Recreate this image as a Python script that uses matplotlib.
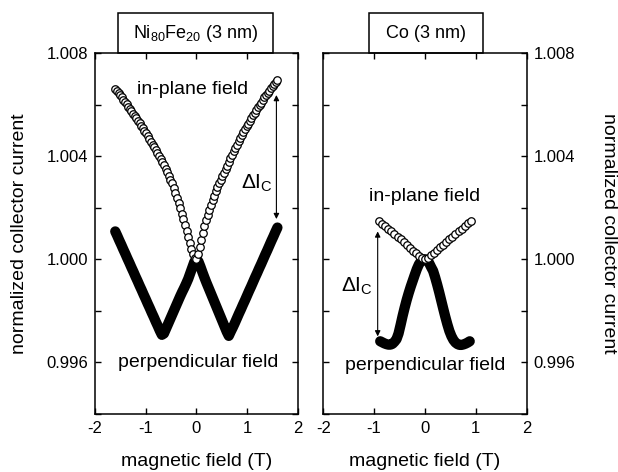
import numpy as np
import matplotlib
matplotlib.use('Agg')
import matplotlib.pyplot as plt
from matplotlib.patches import Rectangle

plt.rcParams['font.family'] = ['Liberation Sans', 'DejaVu Sans']
plt.rcParams['mathtext.default'] = 'regular'

# Ni80Fe20 (3 nm): in-plane sweep, -1.6 .. 1.6 T in 0.032 T steps
field_nife_ip = np.linspace(-1.6, 1.6, 101)
nife_inplane = [
    1.00662, 1.00654, 1.00645, 1.00636, 1.00628, 1.00619, 1.00610, 1.00601, 1.00592, 1.00584,
    1.00575, 1.00565, 1.00556, 1.00547, 1.00538, 1.00528, 1.00518, 1.00509, 1.00499, 1.00488,
    1.00478, 1.00467, 1.00456, 1.00444, 1.00434, 1.00423, 1.00412, 1.00400, 1.00389, 1.00377,
    1.00364, 1.00351, 1.00338, 1.00324, 1.00309, 1.00294, 1.00275, 1.00256, 1.00236, 1.00217,
    1.00198, 1.00177, 1.00155, 1.00133, 1.00110, 1.00087, 1.00064, 1.00041, 1.00021, 1.00006,
    1.00000,
    1.00022, 1.00049, 1.00076, 1.00102, 1.00128, 1.00151, 1.00172, 1.00192, 1.00211, 1.00230,
    1.00247, 1.00263, 1.00279, 1.00294, 1.00308, 1.00322, 1.00336, 1.00350, 1.00363, 1.00377,
    1.00391, 1.00406, 1.00419, 1.00432, 1.00445, 1.00458, 1.00469, 1.00481, 1.00492, 1.00504,
    1.00515, 1.00526, 1.00537, 1.00548, 1.00558, 1.00569, 1.00579, 1.00589, 1.00599, 1.00608,
    1.00618, 1.00628, 1.00637, 1.00646, 1.00654, 1.00663, 1.00671, 1.00679, 1.00687, 1.00694,
]
# perpendicular sweep, 0.04 T steps
field_nife_pp = np.linspace(-1.6, 1.6, 81)
nife_perp = [
    1.00108, 1.00091, 1.00073, 1.00056, 1.00038, 1.00021, 1.00003, 0.99986, 0.99968, 0.99951,
    0.99933, 0.99916, 0.99898, 0.99881, 0.99863, 0.99846, 0.99828, 0.99811, 0.99793, 0.99776,
    0.99758, 0.99741, 0.99723, 0.99707, 0.99712, 0.99730, 0.99748, 0.99766, 0.99784, 0.99802,
    0.99820, 0.99838, 0.99856, 0.99873, 0.99889, 0.99906, 0.99924, 0.99946, 0.99968, 0.99990,
    1.00000,
    0.99992, 0.99972, 0.99950, 0.99929, 0.99909, 0.99890, 0.99871, 0.99852, 0.99833, 0.99814,
    0.99795, 0.99776, 0.99757, 0.99738, 0.99719, 0.99703, 0.99720, 0.99736, 0.99753, 0.99771,
    0.99789, 0.99806, 0.99824, 0.99841, 0.99859, 0.99877, 0.99894, 0.99912, 0.99930, 0.99947,
    0.99965, 0.99982, 1.00000, 1.00018, 1.00035, 1.00053, 1.00071, 1.00088, 1.00106, 1.00123,
]

# Co (3 nm): in-plane sweep -0.9 .. 0.9 T in 0.06 T steps
field_co_ip = np.linspace(-0.9, 0.9, 31)
co_inplane = [
    1.00147, 1.00138, 1.00129, 1.00119, 1.00109, 1.00099, 1.00088, 1.00077, 1.00066, 1.00055,
    1.00044, 1.00033, 1.00023, 1.00013, 1.00005, 1.00000, 1.00006, 1.00015, 1.00025, 1.00036,
    1.00046, 1.00057, 1.00067, 1.00078, 1.00088, 1.00099, 1.00109, 1.00119, 1.00129, 1.00139,
    1.00149,
]
# perpendicular sweep, 0.04 T steps
field_co_pp = np.linspace(-0.88, 0.88, 45)
co_perp = [
    0.99682, 0.99678, 0.99674, 0.99671, 0.99669, 0.99669, 0.99672, 0.99680, 0.99690, 0.99712,
    0.99745, 0.99780, 0.99812, 0.99842, 0.99869, 0.99894, 0.99917, 0.99940, 0.99962, 0.99980,
    0.99992, 0.99999, 1.00000, 0.99996, 0.99986, 0.99970, 0.99955, 0.99930, 0.99902, 0.99872,
    0.99840, 0.99808, 0.99777, 0.99748, 0.99722, 0.99702, 0.99687, 0.99677, 0.99671, 0.99668,
    0.99668, 0.99670, 0.99673, 0.99677, 0.99682,
]

xticks = [-2, -1, 0, 1, 2]
yticks = [0.996, 1.000, 1.004, 1.008]
ylabel = 'normalized collector current'
xlabel = 'magnetic field (T)'

fig = plt.figure(figsize=(6.18, 4.72), dpi=100)
ax1 = fig.add_axes([0.1537, 0.1229, 0.328, 0.7648])
ax2 = fig.add_axes([0.5231, 0.1229, 0.3291, 0.7648])


def style(ax, side):
    ax.set_xlim(-2, 2)
    ax.set_ylim(0.994, 1.008)
    ax.set_xticks(xticks)
    ax.set_xticklabels([str(t) for t in xticks])
    ax.set_yticks(yticks)
    ax.set_yticklabels(['%.3f' % t for t in yticks])
    ax.set_yticks([0.994, 0.998, 1.002, 1.006], minor=True)
    ax.tick_params(which='both', direction='in', top=True, right=True, left=True,
                   length=4, width=1, labelsize=12, pad=5)
    if side == 'right':
        ax.tick_params(labelleft=False, labelright=True)
        ax.yaxis.set_label_position('right')
        ax.set_ylabel(ylabel, fontsize=14, rotation=270, labelpad=30)
    else:
        ax.set_ylabel(ylabel, fontsize=14, labelpad=13)
    ax.set_xlabel(xlabel, fontsize=14, labelpad=12)
    for s in ax.spines.values():
        s.set_linewidth(1.1)


for ax, fp, pp, fi, ip in [(ax1, field_nife_pp, nife_perp, field_nife_ip, nife_inplane),
                           (ax2, field_co_pp, co_perp, field_co_ip, co_inplane)]:
    ax.plot(fp, pp, '-', lw=7.4, color='black', solid_capstyle='round',
            solid_joinstyle='round', zorder=2)
    ax.plot(fi, ip, 'o', ms=5.4, mfc='white', mec='black', mew=0.9, zorder=3)

style(ax1, 'left')
style(ax2, 'right')

# title boxes
for ax, x0, x1, label in [(ax1, 0.113, 0.878, 'Ni$_{80}$Fe$_{20}$ (3 nm)'),
                          (ax2, 0.225, 0.785, 'Co (3 nm)')]:
    ax.add_patch(Rectangle((x0, 1.0), x1 - x0, 0.111, transform=ax.transAxes,
                           fill=False, lw=1.1, ec='black', clip_on=False))
    ax.text((x0 + x1) / 2, 1.055, label, transform=ax.transAxes, ha='center',
            va='center', fontsize=13)

ax1.text(-0.07, 1.00657, 'in-plane field', ha='center', va='center', fontsize=14)
ax1.text(0.03, 0.9960, 'perpendicular field', ha='center', va='center', fontsize=14)
ax2.text(0.0, 1.00242, 'in-plane field', ha='center', va='center', fontsize=14)
ax2.text(0.0, 0.99588, 'perpendicular field', ha='center', va='center', fontsize=14)

arrow = dict(arrowstyle='<|-|>', lw=0.8, color='black', mutation_scale=8,
             shrinkA=0, shrinkB=0)
ax1.annotate('', xy=(1.58, 1.00156), xytext=(1.58, 1.00637), arrowprops=arrow)
ax2.annotate('', xy=(-0.93, 0.99701), xytext=(-0.93, 1.00108), arrowprops=arrow)
ax1.text(0.88, 1.00296, r'$\Delta$I$_C$', ha='left', va='center', fontsize=15)
ax2.text(-1.66, 0.99894, r'$\Delta$I$_C$', ha='left', va='center', fontsize=15)

plt.savefig('out.png', dpi=100)
